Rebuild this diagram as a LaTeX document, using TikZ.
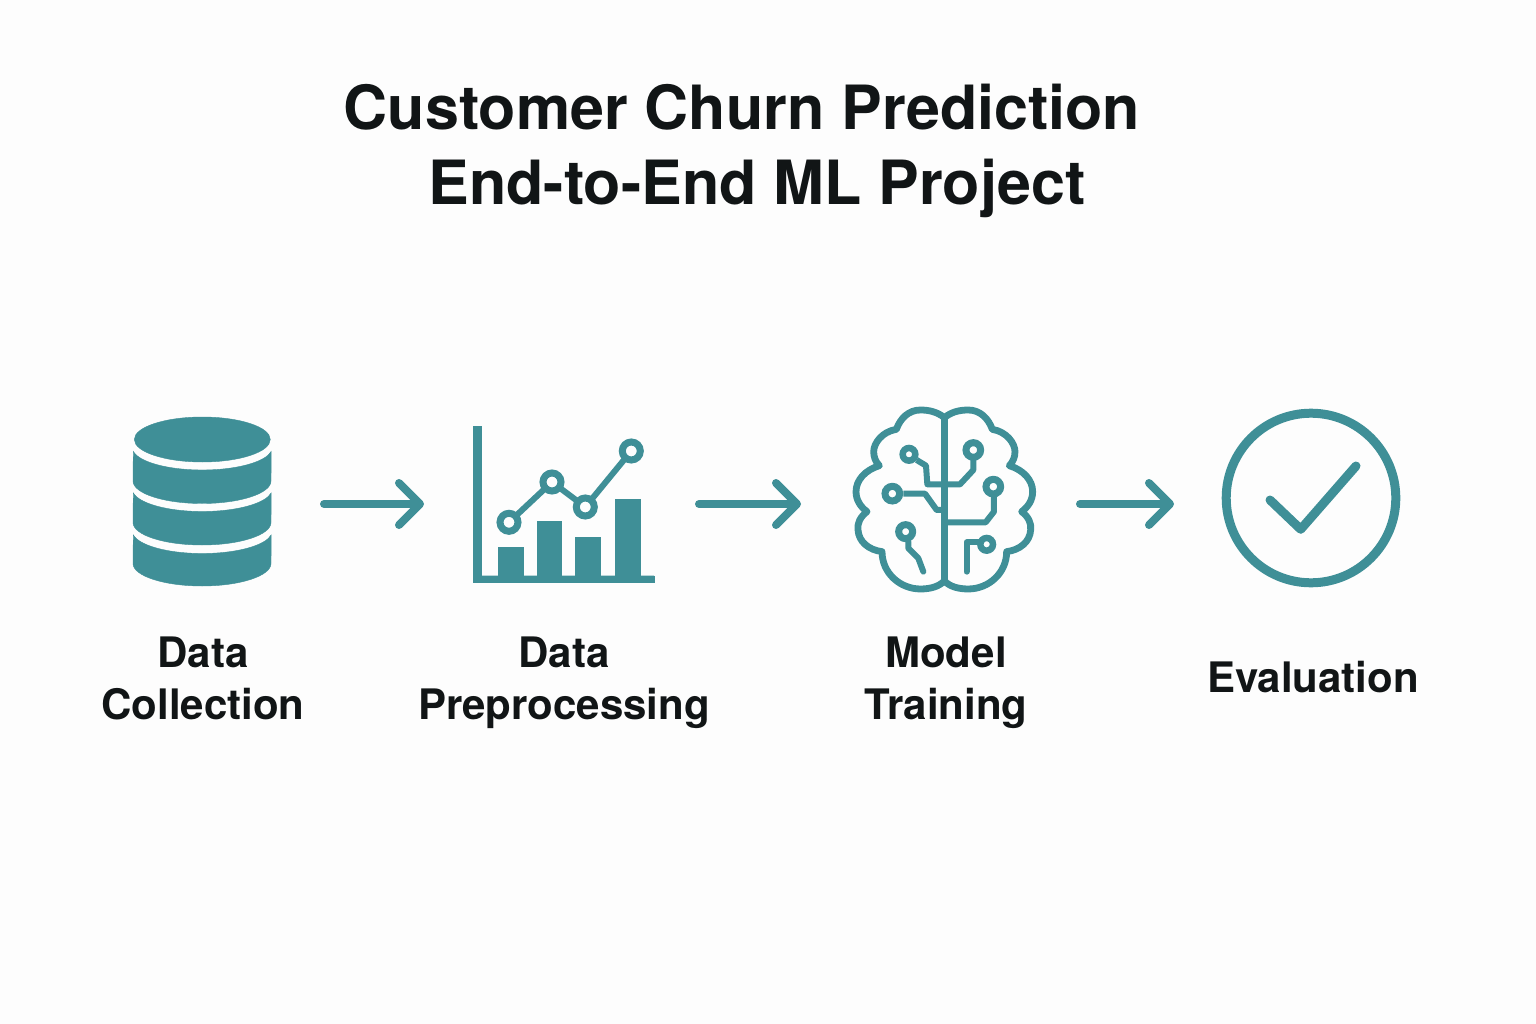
\documentclass[tikz,border=0pt]{standalone}
\usepackage{fontspec}
\setmainfont{TeX Gyre Heros}
\usetikzlibrary{arrows.meta}
\definecolor{teal1}{HTML}{3F8F97}
\definecolor{bgc}{HTML}{FDFDFD}
\definecolor{ink}{HTML}{111516}
\tikzset{
  x=1pt,y=-1pt,
  iconbox/.style={draw=none,fill=none,inner sep=0pt,outer sep=0pt,minimum height=10pt},
  flow/.style={draw=teal1,line width=8pt,line cap=round,-{Straight Barb[length=21pt,width=42pt,round]}},
  solid teal/.style={fill=teal1,draw=teal1,line width=.4pt},
  trace/.style={draw=teal1,line join=round,line cap=round},
  ring/.style={draw=teal1,fill=bgc},
  title/.style={font=\fontsize{61}{75}\selectfont\bfseries,text=ink,align=center,inner sep=0pt},
  label/.style={font=\fontsize{42}{52}\selectfont\bfseries,text=ink,align=center,inner sep=0pt},
}
\newcommand{\brainhalf}{(313,68) .. controls (335,50) and (360,45) .. (385,45) .. controls (420,45) and (445,70) .. (457,103)
 .. controls (500,110) and (525,145) .. (525,170) .. controls (525,185) and (520,200) .. (508,212)
 .. controls (550,225) and (578,255) .. (578,290) .. controls (578,315) and (565,335) .. (545,350)
 .. controls (565,365) and (575,385) .. (572,405) .. controls (570,440) and (540,465) .. (500,470)
 .. controls (500,535) and (445,582) .. (385,582) .. controls (355,582) and (330,575) .. (313,558)}
\newcommand{\dbband}[2]{% #1 centre of top arc, #2 centre of bottom arc
  \fill[solid teal] (133.3,#1+3.9) arc [start angle=170,end angle=10,x radius=70,y radius=22.5]
     -- (271,#2) arc [start angle=0,end angle=180,x radius=69,y radius=22.5] -- cycle;}
\begin{document}
\begin{tikzpicture}
\useasboundingbox (0,0) rectangle (1536,1024);
\fill[bgc] (0,0) rectangle (1536,1024);
% title
\node[title] (ttl) at (742,151) {Customer Churn Prediction\\\hspace*{30pt}End-to-End ML Project};
% database
\fill[solid teal] (202.3,439.5) ellipse [x radius=68,y radius=22.5];
\dbband{447.5}{481}
\dbband{489}{522.5}
\dbband{531}{563.5}
% chart
\fill[solid teal] (473.5,426) -- (481.5,426) -- (481.5,575.7) -- (654,575.7) -- (654,582.5) -- (473.5,582.5) -- cycle;
\fill[solid teal] (498,547.3) rectangle (522.7,576);
\fill[solid teal] (537.3,520.7) rectangle (560.7,576);
\fill[solid teal] (575,536.7) rectangle (600,576);
\fill[solid teal] (615,499) rectangle (640,576);
\draw[draw=teal1,line width=6pt] (509,522.3) -- (552,482) -- (585.3,507) -- (631.3,451);
\foreach \p in {(509,522.3),(552,482),(585.3,507),(631.3,451)}
  \draw[ring,line width=7pt] \p circle [radius=9];
% brain
\begin{scope}[shift={(840,395)},x=0.3333pt,y=-0.3333pt]
  \draw[trace,line width=6.8pt,line cap=butt] (313,68) -- (313,558);
  \draw[trace,line width=6.8pt] \brainhalf;
  \begin{scope}[xshift=208.67pt,x=-0.3333pt]
    \draw[trace,line width=6.8pt] \brainhalf;
  \end{scope}
  \draw[trace,line width=6pt,line cap=butt] (230,195) -- (258,212) -- (262,268) -- (360,268) -- (400,225) -- (400,195);
  \draw[trace,line width=6pt,line cap=butt] (190,296) -- (255,296) -- (290,345) -- (313,345);
  \draw[trace,line width=6pt,line cap=butt] (462,305) -- (462,350) -- (437,382) -- (313,382);
  \draw[trace,line width=6pt] (205,440) -- (205,460) -- (235,490) -- (250,530);
  \draw[trace,line width=6pt] (380,530) -- (380,442) -- (415,442);
  \draw[ring,line width=6.5pt] (207,178) circle [radius=19];
  \draw[ring,line width=7pt] (400,165) circle [radius=22];
  \draw[ring,line width=7pt] (157,296) circle [radius=22];
  \draw[ring,line width=7pt] (460,275) circle [radius=22];
  \draw[ring,line width=7pt] (197,410) circle [radius=21];
  \draw[ring,line width=6.5pt] (440,448) circle [radius=19];
\end{scope}
% check
\draw[draw=teal1,line width=9pt] (1311,498) circle [radius=84.8];
\draw[draw=teal1,line width=9pt,line cap=round,line join=round] (1270,500) -- (1300.7,529.3) -- (1356,466);
% anchors for connectors
\node[iconbox,minimum width=242pt] (db) at (203,504) {};
\node[iconbox,minimum width=275pt] (chart) at (561.5,504) {};
\node[iconbox,minimum width=279pt] (brain) at (940.5,504) {};
\node[iconbox,minimum width=274pt] (check) at (1311,504) {};
\draw[flow] (db) -- (chart);
\draw[flow] (chart) -- (brain);
\draw[flow] (brain) -- (check);
% labels
\node[label] (l1) at (203,678) {Data\\Collection};
\node[label] (l2) at (564,683) {Data\\Preprocessing};
\node[label] (l3) at (946,683) {Model\\Training};
\node[label] (l4) at (1313,677) {Evaluation};
\end{tikzpicture}
\end{document}
